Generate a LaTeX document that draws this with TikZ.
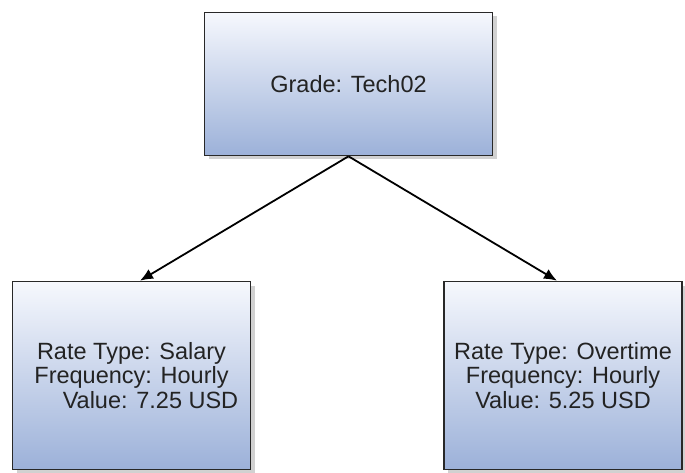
\documentclass[tikz,border=0pt]{standalone}
\usepackage{fontspec}
\setmainfont{Liberation Sans}
\usetikzlibrary{positioning}
\usetikzlibrary{shadows}
\usetikzlibrary{arrows.meta}
\definecolor{cimaBox}{RGB}{246,248,253}
\definecolor{fondoBox}{RGB}{156,177,217}
\definecolor{bordoBox}{RGB}{40,40,40}
\definecolor{testoBox}{RGB}{35,35,35}

\begin{document}
\begin{tikzpicture}[x=1pt,y=1pt,align=center,
font=\fontsize{23.5}{24.5}\selectfont,
casella/.style={draw=bordoBox,line width=1.6pt,text=testoBox,top color=cimaBox,bottom color=fondoBox,
  drop shadow={shadow xshift=4pt,shadow yshift=-4pt,opacity=0.3,fill=black!60}},
grado/.style={casella,minimum width=288pt,minimum height=143pt},
tasso/.style={casella,minimum width=238pt,minimum height=188pt},
freccia/.style={line width=1.8pt,-{Latex[length=13pt,width=11pt]}}
]
\useasboundingbox (0,0) rectangle (685,472);
%--
\node[grado](grade) at (348.5,388){Grade: Tech02};
%--
\node[tasso](salary) at (131.5,96.5){Rate Type: Salary\\Frequency: Hourly\\\hspace*{38pt}Value: 7.25 USD};
\node[tasso](overtime) at (563,96.5){Rate Type: Overtime\\Frequency: Hourly\\Value: 5.25 USD};
%--
\draw[freccia] (grade.south) -- ([xshift=8.5pt]salary.north);
\draw[freccia] (grade.south) -- ([xshift=-6pt]overtime.north);
\end{tikzpicture}
\end{document}
